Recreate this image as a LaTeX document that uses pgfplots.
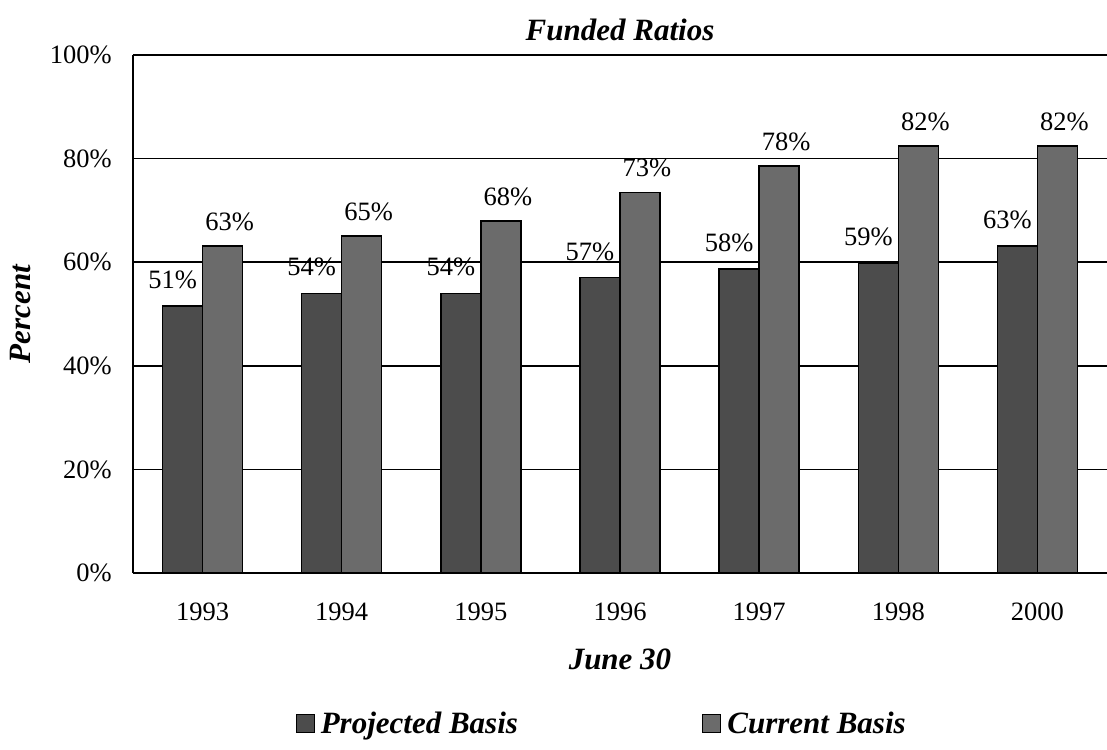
\documentclass[border=0pt]{standalone}
\usepackage{fontspec}
\setmainfont{Liberation Serif}
\usepackage{pgfplots}
\pgfplotsset{compat=1.18}
\definecolor{projc}{gray}{0.30}
\definecolor{currc}{gray}{0.42}
\begin{document}
\begin{tikzpicture}[x=1pt,y=1pt]
\useasboundingbox (-133,-176) rectangle (974,573);
\begin{axis}[
  at={(0,0)}, anchor=south west,
  scale only axis, width=974pt, height=518pt,
  xmin=-0.5, xmax=6.5, ymin=0, ymax=100,
  ybar=0pt, bar width=40pt,
  xtick={0,...,6},
  xticklabels={1993,1994,1995,1996,1997,1998,2000},
  ytick={0,20,40,60,80,100},
  yticklabels={0\%,20\%,40\%,60\%,80\%,100\%},
  major tick length=0pt,
  axis x line*=bottom, axis y line*=left,
  axis line style={line width=1.6pt,-},
  ymajorgrids, major grid style={line width=1.6pt,black},
  tick label style={font=\fontsize{26.5}{31}\selectfont},
  xticklabel style={anchor=center, yshift=-39pt},
  yticklabel style={anchor=east, inner sep=0pt, xshift=-21pt},
  title={Funded Ratios},
  title style={font=\fontsize{31}{36}\selectfont\bfseries\itshape, at={(axis description cs:0.5,1)}, anchor=center, yshift=19pt},
  xlabel={June 30},
  xlabel style={font=\fontsize{31}{36}\selectfont\bfseries\itshape, at={(axis description cs:0.5,0)}, anchor=center, yshift=-86pt},
  ylabel={Percent},
  ylabel style={font=\fontsize{31}{36}\selectfont\bfseries\itshape, at={(axis description cs:-0.116,0.5)}, anchor=center},
  legend columns=2,
  legend style={draw=none, fill=none, at={(axis description cs:0.48,0)}, anchor=center, yshift=-150pt,
    font=\fontsize{31}{36}\selectfont\bfseries\itshape},
  legend image code/.code={\draw[#1, line width=1pt] (0pt,-9pt) rectangle (18pt,9pt); \path (-2pt,0pt) (22pt,0pt);},
  point meta=explicit symbolic,
  nodes near coords={\pgfplotspointmeta\%},
  nodes near coords style={font=\fontsize{26.5}{31}\selectfont, anchor=center, text=black},
]
\addplot+[fill=projc, draw=black, line width=1.5pt,
  every node near coord/.append style={xshift=-10pt, yshift=26pt}]
  coordinates {(0,51.5)[51] (1,54.0)[54] (2,54.0)[54] (3,57.0)[57] (4,58.7)[58] (5,59.8)[59] (6,63.1)[63]};
\addplot+[fill=currc, draw=black, line width=1.5pt,
  every node near coord/.append style={xshift=7pt, yshift=24pt}]
  coordinates {(0,63.1)[63] (1,65.1)[65] (2,68.0)[68] (3,73.5)[73] (4,78.6)[78] (5,82.4)[82] (6,82.4)[82]};
\legend{Projected Basis\hspace*{180pt},Current Basis}
\end{axis}
\end{tikzpicture}
\end{document}
